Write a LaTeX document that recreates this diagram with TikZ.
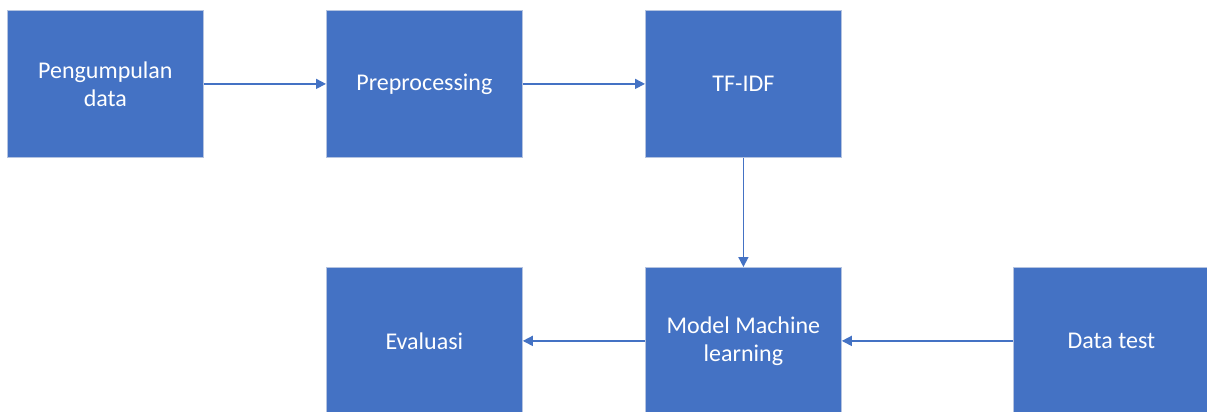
\documentclass[tikz,border=0pt]{standalone}
\usepackage{fontspec}
\setmainfont{Carlito}
\usetikzlibrary{arrows.meta}
\definecolor{boxblue}{HTML}{4472C4}
\definecolor{boxedge}{HTML}{B4C3E0}
\tikzset{
  flowbox/.style={draw=boxedge, line width=0.8pt, fill=boxblue, text=white,
    minimum width=196pt, minimum height=147pt, inner sep=0pt, align=center,
    font=\fontsize{24}{28}\selectfont, anchor=north west},
  flowarrow/.style={draw=boxblue, line width=1.6pt, -{Triangle[length=10pt,width=10pt]}}
}
\begin{document}
\begin{tikzpicture}[x=1pt,y=-1pt]
  \useasboundingbox[fill=white] (0,0) rectangle (1207,412);
  % top row
  \node[flowbox] (collect) at (7,10) {Pengumpulan\\data};
  \node[flowbox] (prep) at (326,10) {Preprocessing};
  \node[flowbox] (tfidf) at (645,10) {TF-IDF};
  % bottom row
  \node[flowbox] (eval) at (326,267) {Evaluasi};
  \node[flowbox] (model) at (645,267) {Model Machine\\learning};
  \node[flowbox] (test) at (1013,267) {Data test};
  % connectors
  \draw[flowarrow] (collect) -- (prep);
  \draw[flowarrow] (prep) -- (tfidf);
  \draw[flowarrow] (tfidf) -- (model);
  \draw[flowarrow] (model) -- (eval);
  \draw[flowarrow] (test) -- (model);
\end{tikzpicture}
\end{document}
